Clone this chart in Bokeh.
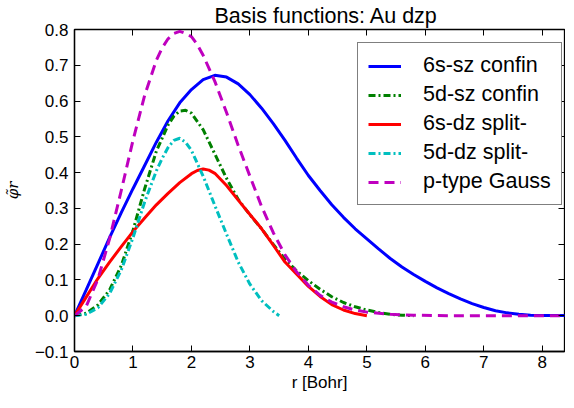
from bokeh.plotting import figure
from bokeh.models import Range1d, FixedTicker, LinearAxis, Legend, LegendItem
from bokeh.embed import file_html
from bokeh.resources import INLINE

# ---- data ----
labels = ["6s-sz confin", "5d-sz confin", "6s-dz split-", "5d-dz split-", "p-type Gauss"]

x_6s_sz = [0.0, 0.2, 0.4, 0.6, 0.8, 1.0, 1.2, 1.4, 1.6, 1.8, 2.0, 2.2, 2.4, 2.6, 2.8, 3.0,
           3.2, 3.4, 3.6, 3.8, 4.0, 4.2, 4.4, 4.6, 4.8, 5.0, 5.2, 5.4, 5.6, 5.8, 6.0, 6.2,
           6.4, 6.6, 6.8, 7.0, 7.2, 7.4, 7.6, 7.8, 8.0, 9.0]
y_6s_sz = [0.0, 0.072, 0.145, 0.218, 0.288, 0.355, 0.42, 0.485, 0.545, 0.595, 0.632, 0.66,
           0.672, 0.667, 0.648, 0.618, 0.58, 0.537, 0.49, 0.44, 0.392, 0.35, 0.31, 0.275,
           0.243, 0.215, 0.187, 0.16, 0.136, 0.115, 0.096, 0.078, 0.062, 0.047, 0.034,
           0.023, 0.014, 0.008, 0.004, 0.0015, 0.0005, 0.0]

x_5d_sz = [0.0, 0.2, 0.4, 0.6, 0.8, 1.0, 1.2, 1.4, 1.6, 1.7, 1.8, 1.9, 2.0, 2.2, 2.4, 2.6,
           2.8, 3.0, 3.2, 3.4, 3.6, 3.8, 4.0, 4.2, 4.4, 4.6, 4.8, 5.0, 5.2, 5.4, 5.6, 5.8]
y_5d_sz = [0.0, 0.007, 0.03, 0.072, 0.14, 0.238, 0.355, 0.46, 0.533, 0.558, 0.572, 0.574,
           0.566, 0.52, 0.452, 0.384, 0.325, 0.282, 0.243, 0.199, 0.158, 0.125, 0.098,
           0.074, 0.053, 0.037, 0.025, 0.016, 0.009, 0.004, 0.0015, 0.0]

x_6s_dz = [0.0, 0.2, 0.4, 0.6, 0.8, 1.0, 1.2, 1.4, 1.6, 1.8, 2.0, 2.1, 2.2, 2.3, 2.4, 2.6,
           2.8, 3.0, 3.2, 3.4, 3.6, 3.8, 4.0, 4.2, 4.4, 4.6, 4.8, 5.0]
y_6s_dz = [0.0, 0.052, 0.104, 0.15, 0.193, 0.235, 0.273, 0.31, 0.342, 0.372, 0.397, 0.406,
           0.41, 0.407, 0.398, 0.364, 0.323, 0.283, 0.243, 0.197, 0.15, 0.116, 0.082,
           0.054, 0.031, 0.016, 0.006, 0.0]

x_5d_dz = [0.0, 0.2, 0.4, 0.6, 0.8, 1.0, 1.2, 1.4, 1.5, 1.6, 1.7, 1.8, 1.9, 2.0, 2.2, 2.4,
           2.6, 2.8, 3.0, 3.2, 3.4, 3.5]
y_5d_dz = [0.0, 0.004, 0.022, 0.062, 0.128, 0.218, 0.318, 0.405, 0.44, 0.47, 0.49, 0.496,
           0.485, 0.462, 0.39, 0.308, 0.228, 0.15, 0.088, 0.042, 0.012, 0.0]

x_gauss = [0.0, 0.2, 0.4, 0.6, 0.8, 1.0, 1.2, 1.4, 1.5, 1.6, 1.7, 1.8, 1.9, 2.0, 2.1, 2.2,
           2.4, 2.6, 2.8, 3.0, 3.2, 3.4, 3.6, 3.8, 4.0, 4.2, 4.4, 4.6, 4.8, 5.0, 5.4, 5.8,
           6.4, 9.0]
y_gauss = [0.0, 0.026, 0.102, 0.215, 0.35, 0.49, 0.616, 0.714, 0.749, 0.774, 0.789, 0.795,
           0.789, 0.78, 0.758, 0.728, 0.655, 0.568, 0.476, 0.39, 0.305, 0.232, 0.17, 0.122,
           0.085, 0.057, 0.038, 0.025, 0.016, 0.01, 0.004, 0.0015, 0.0, 0.0]

x_ticks = [0, 1, 2, 3, 4, 5, 6, 7, 8]
y_ticks = [-0.1, 0.0, 0.1, 0.2, 0.3, 0.4, 0.5, 0.6, 0.7, 0.8]
y_tick_labels = ["\u22120.1", "0.0", "0.1", "0.2", "0.3", "0.4", "0.5", "0.6", "0.7", "0.8"]
x_max = 8.38
y_min, y_max = -0.1, 0.8

FONT = "Liberation Sans"

p = figure(frame_width=490, frame_height=322, output_backend="svg", toolbar_location=None,
           x_range=Range1d(0, x_max), y_range=Range1d(y_min, y_max),
           min_border_left=67, min_border_right=1, min_border_top=27, min_border_bottom=43)

p.title.text = "Basis functions: Au dzp"
p.title.align = "left"
p.title.offset = 140
p.title.text_font = FONT
p.title.text_font_size = "21.5px"
p.title.text_font_style = "normal"
p.title.text_color = "black"
p.title.standoff = 3

p.xgrid.visible = False
p.ygrid.visible = False
p.outline_line_color = "black"
p.outline_line_width = 1.3
p.background_fill_color = "white"
p.border_fill_color = "white"

xt = FixedTicker(ticks=x_ticks)
yt = FixedTicker(ticks=y_ticks)

for ax in (p.xaxis[0], p.yaxis[0]):
    ax.major_tick_in = 6
    ax.major_tick_out = 0
    ax.minor_tick_in = 0
    ax.minor_tick_out = 0
    ax.minor_tick_line_color = None
    ax.axis_line_color = "black"
    ax.axis_line_width = 1.3
    ax.major_tick_line_width = 1
    ax.major_label_text_font = FONT
    ax.major_label_text_font_size = "17px"
    ax.major_label_text_color = "black"
    ax.axis_label_text_font_size = "17px"
    ax.axis_label_text_color = "black"

p.xaxis[0].ticker = xt
p.yaxis[0].ticker = yt
p.yaxis[0].major_label_overrides = dict(zip(y_ticks, y_tick_labels))
p.xaxis[0].major_label_standoff = 4
p.yaxis[0].major_label_standoff = 6

p.xaxis[0].axis_label = "r [Bohr]"
p.xaxis[0].axis_label_text_font = FONT
p.xaxis[0].axis_label_text_font_style = "normal"
p.xaxis[0].axis_label_standoff = 2

p.yaxis[0].axis_label = "\u03c6\u0303r"
p.yaxis[0].axis_label_text_font = "DejaVu Serif"
p.yaxis[0].axis_label_text_font_style = "italic"
p.yaxis[0].axis_label_text_font_size = "15px"
p.yaxis[0].axis_label_standoff = 10


def tick_only_axis(ticker, loc):
    return LinearAxis(ticker=ticker, fixed_location=loc, major_label_text_font_size="1px",
                      major_label_text_color=None, major_label_standoff=0,
                      major_tick_in=6, major_tick_out=0, minor_tick_in=0, minor_tick_out=0,
                      minor_tick_line_color=None, axis_line_color=None)


p.add_layout(tick_only_axis(xt, y_max), "above")
p.add_layout(tick_only_axis(yt, x_max), "right")

r1 = p.line(x_6s_sz, y_6s_sz, line_color="#0000ff", line_width=3)
r2 = p.line(x_5d_sz, y_5d_sz, line_color="#008000", line_width=3, line_dash="7 3 2 3")
r3 = p.line(x_6s_dz, y_6s_dz, line_color="#ff0000", line_width=3)
r4 = p.line(x_5d_dz, y_5d_dz, line_color="#00bfbf", line_width=3, line_dash="7 3 2 3")
r5 = p.line(x_gauss, y_gauss, line_color="#bf00bf", line_width=3, line_dash="10 6")

legend = Legend(items=[LegendItem(label=l, renderers=[r]) for l, r in
                       zip(labels, [r1, r2, r3, r4, r5])],
                location=(283, 146))
legend.label_text_font = FONT
legend.label_text_font_size = "21.5px"
legend.label_text_color = "black"
legend.glyph_width = 33
legend.glyph_height = 22
legend.label_height = 22
legend.label_standoff = 22
legend.spacing = 4
legend.padding = 10
legend.margin = 0
legend.border_line_color = "black"
legend.border_line_width = 1.3
legend.background_fill_alpha = 1.0
p.add_layout(legend)

open("out.html", "w").write(file_html(p, INLINE))
